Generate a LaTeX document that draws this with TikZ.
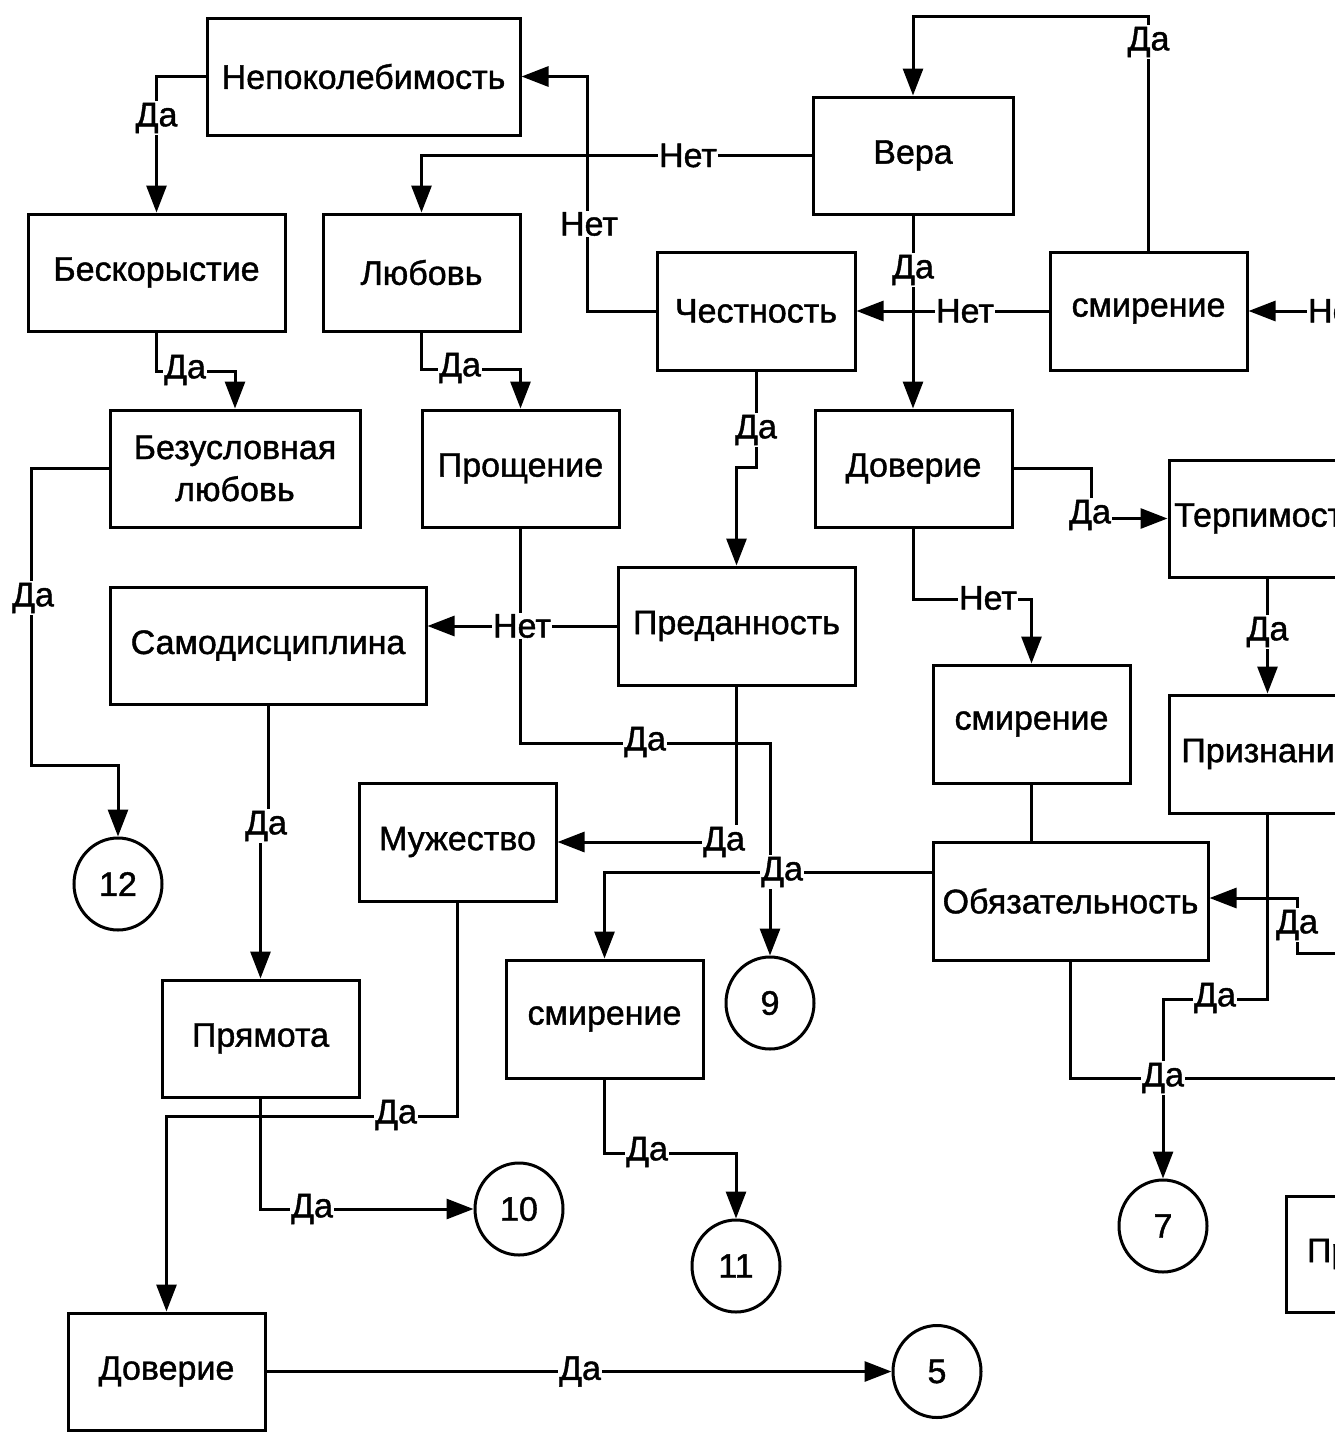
\documentclass[tikz,border=0pt]{standalone}
\usepackage{fontspec}
\setmainfont{Liberation Sans}[FakeBold=1.2,AutoFakeBold=1.2]
\newfontfamily\diagfont{Liberation Sans}[FakeBold=1.2]
\usetikzlibrary{arrows.meta,shapes.geometric,calc}
\begin{document}
\begin{tikzpicture}[x=1pt,y=-1pt,
  box/.style={draw,line width=3pt,minimum height=117pt,inner sep=0pt,font=\fontsize{34}{42}\bfseries,align=center},
  endc/.style={draw,ellipse,line width=3pt,minimum width=88pt,minimum height=92pt,inner sep=0pt,font=\fontsize{34}{42}\bfseries},
  conn/.style={line width=3pt,-{Triangle[length=27pt,width=20pt]}},
  plain/.style={line width=3pt},
  lbl/.style={fill=white,inner sep=1.5pt,font=\fontsize{34}{42}\bfseries},
]
\useasboundingbox (0,0) rectangle (1335,1432);
\fill[white] (0,0) rectangle (1335,1432);

% boxes
\node[box,minimum width=313pt] (nep) at (363.5,76.5) {Непоколебимость};
\node[box,minimum width=200pt] (vera) at (913,155.5) {Вера};
\node[box,minimum width=257pt] (besk) at (156.5,272.5) {Бескорыстие};
\node[box,minimum width=197pt] (lub) at (421.5,272.5) {Любовь};
\node[box,minimum width=198pt,minimum height=118pt] (chest) at (756,311) {Честность};
\node[box,minimum width=197pt,minimum height=118pt] (smir1) at (1148.5,311) {смирение};
\node[box,minimum width=250pt] (bezusl) at (235,468.5) {Безусловная\\любовь};
\node[box,minimum width=197pt] (prosh) at (520.5,468.5) {Прощение};
\node[box,minimum width=197pt] (dov1) at (913.5,468.5) {Доверие};
\node[box,minimum width=197pt] (terp) at (1267.5,518.5) {Терпимость};
\node[box,minimum width=316pt] (samod) at (268,645.5) {Самодисциплина};
\node[box,minimum width=237pt,minimum height=118pt] (pred) at (736.5,626) {Преданность};
\node[box,minimum width=197pt,minimum height=118pt] (smir2) at (1031.5,724) {смирение};
\node[box,minimum width=197pt,minimum height=118pt] (prizn) at (1267.5,754) {Признание};
\node[box,minimum width=197pt,minimum height=118pt] (muzh) at (457.5,842) {Мужество};
\node[box,minimum width=275pt,minimum height=118pt] (obyaz) at (1070.5,901) {Обязательность};
\node[box,minimum width=197pt,minimum height=118pt] (smir3) at (604.5,1019) {смирение};
\node[box,minimum width=197pt] (pryam) at (260.5,1038.5) {Прямота};
\node[box,minimum width=197pt,minimum height=116pt,text width=155pt,align=left] (pr) at (1384.5,1254) {Пр};
\node[box,minimum width=197pt] (dov2) at (166.5,1371.5) {Доверие};

% end circles
\node[endc] (c12) at (118,884) {12};
\node[endc] (c9) at (770,1003) {9};
\node[endc] (c10) at (519,1209) {10};
\node[endc] (c11) at (736,1266) {11};
\node[endc] (c7) at (1163,1226) {7};
\node[endc] (c5) at (937,1371.5) {5};

% free ends at the right border
\coordinate (eH) at (1345,311);
\coordinate (eZ) at (1345,1078);
\coordinate (eA) at (1345,953);

% connectors
\draw[conn] (vera.west) -| (lub.north) node[lbl] (lA) at (688,155.5) {Нет};
\draw[conn] (chest.west) -- ++(-68,0) |- (nep.east) node[lbl] (lB) at (589,224) {Нет};
\draw[conn] (nep.west) -| (besk.north) node[lbl] (lC) at (156.5,118) {Да};
\draw[conn] (besk.south) -- ++(0,39) -| (bezusl.north) node[lbl] (lD) at (185,370) {Да};
\draw[conn] (lub.south) -- ++(0,37) -| (prosh.north) node[lbl] (lE) at (460,368) {Да};
\draw[conn] (vera.south) -- (vera.south |- dov1.north) node[lbl] (lF) at (913,270) {Да};
\draw[conn] (smir1.west) -- (chest.east) node[lbl] (lG) at (965,311) {Нет};
\draw[conn] (eH) -- (smir1.east) node[lbl] (lH) at (1337,311) {Нет};
\draw[conn] (smir1.north) -- ++(0,-234) -| (vera.north) node[lbl] (lI) at (1148.5,42) {Да};
\draw[conn] (chest.south) -- ++(0,96) -| (pred.north) node[lbl] (lJ) at (756,430) {Да};
\draw[conn] (dov1.east) -| ++(78,50) -- (terp.west) node[lbl] (lK) at (1090,515) {Да};
\draw[conn] (dov1.south) -- ++(0,71) -| (smir2.north) node[lbl] (lL) at (988,598) {Нет};
\draw[conn] (terp.south) -- (prizn.north) node[lbl] (lM) at (1267.5,632) {Да};
\draw[conn] (prosh.south) -- ++(0,215) -| (c9.north) node[lbl] (lO) at (645,742) {Да};
\draw[conn] (pred.west) -- (pred.west -| samod.east) node[lbl] (lN) at (522,626) {Нет};
\draw[conn] (pred.south) |- (muzh.east) node[lbl] (lP) at (724,842) {Да};
\draw[conn] ([yshift=29pt]obyaz.west) -| (smir3.north) node[lbl] (lQ) at (782,872) {Да};
\draw[plain] (smir2.south) -- (smir2.south |- obyaz.north);
\draw[conn] (samod.south) -- ++(0,122) -| (pryam.north) node[lbl] (lS) at (266,826) {Да};
\draw[conn] (bezusl.west) -- ++(-77,0) -- ++(0,296.5) -| (c12.north) node[lbl] (lT) at (33,598) {Да};
\draw[conn] (muzh.south) -- ++(0,214) -| (dov2.north) node[lbl] (lU) at (396,1115) {Да};
\draw[conn] (pryam.south) |- (c10.west) node[lbl] (lV) at (312,1209) {Да};
\draw[conn] (smir3.south) -- ++(0,74) -| (c11.north) node[lbl] (lW) at (647,1152) {Да};
\draw[conn] (dov2.east) -- (c5.west) node[lbl] (lX) at (580,1371.5) {Да};
\draw[conn] (prizn.south) -- ++(0,185) -| (c7.north) node[lbl] (lY) at (1215,998) {Да};
\draw[plain] (obyaz.south) |- (eZ) node[lbl] (lZ) at (1163,1078) {Да};
\draw[conn] (eA) -- ++(-48,0) |- ([yshift=3pt]obyaz.east) node[lbl] (lAA) at (1297,925) {Да};
\end{tikzpicture}
\end{document}
